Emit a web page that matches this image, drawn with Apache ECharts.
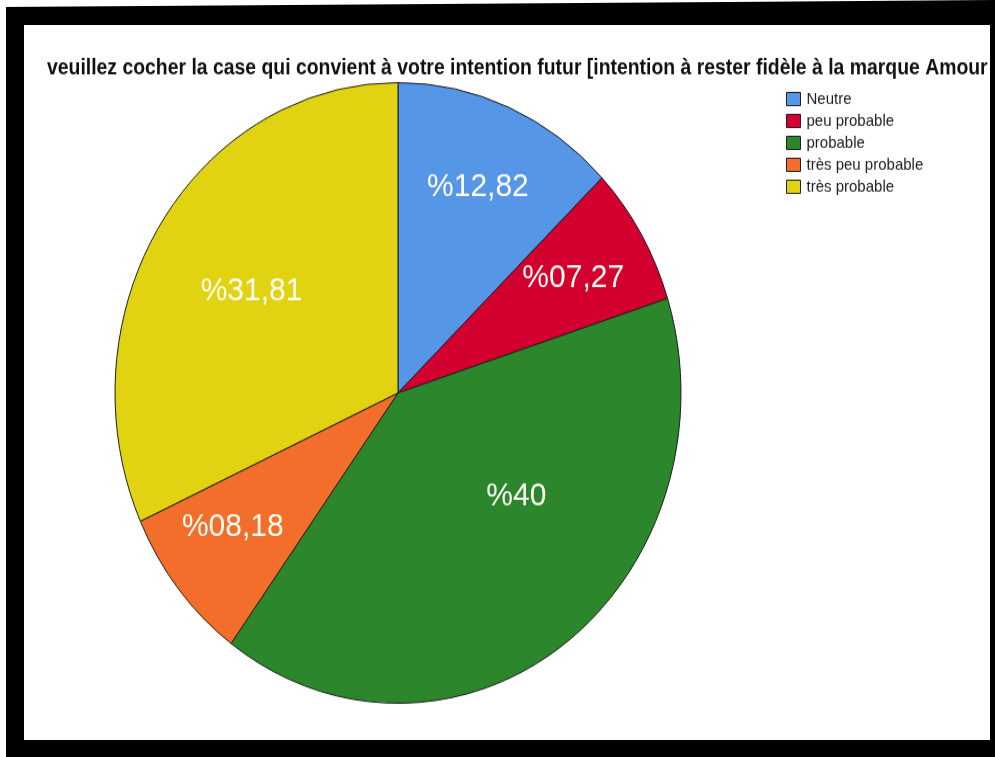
<!DOCTYPE html>
<html>
<head>
<meta charset="utf-8">
<script src="https://cdn.jsdelivr.net/npm/echarts@6/dist/echarts.min.js"></script>
<style>
  html, body { margin: 0; padding: 0; }
  body { width: 995px; height: 757px; background: #000; position: relative; overflow: hidden; }
  #edgeLeft { position: absolute; left: 0; top: 0; width: 6px; height: 757px; background: #fff; }
  #edgeTop { position: absolute; left: 0; top: 0; width: 995px; height: 7px; background: #fff;
             clip-path: polygon(0 0, 100% 0, 0 100%); }
  #panel { position: absolute; left: 24px; top: 25px; width: 966px; height: 715px; background: #fff;
           box-shadow: inset 0 0 0 1px #c8c8c8; overflow: hidden; }
  /* the chart is drawn in a 966x652 box and stretched vertically to fill the panel */
  #chart { position: absolute; left: 0; top: 0; width: 966px; height: 652px;
           transform: scale(1, 1.0966); transform-origin: 0 0; }
</style>
</head>
<body>
<div id="edgeLeft"></div>
<div id="edgeTop"></div>
<div id="panel"><div id="chart"></div></div>
<script>
// Answer categories and their shares (%)
const categories = ['Neutre', 'peu probable', 'probable', 'très peu probable', 'très probable'];
const shares = [12.82, 7.27, 40, 8.18, 31.81];
const sliceColors = ['#5596e6', '#d3002f', '#2c862b', '#f36d2b', '#e1d312'];
const titleText = 'veuillez cocher la case qui convient à votre intention futur [intention à rester fidèle à la marque Amour';

// Small nudges for labels that sit away from the label ring
const labelNudge = { 'probable': [-1, -71], 'très peu probable': [-7, -7], 'très probable': [25, 18] };

function pct(v) {
  const parts = String(v).split('.');
  return '%' + parts[0].padStart(2, '0') + (parts[1] ? ',' + parts[1] : '');
}

const FONT = '"Liberation Sans", Arial, sans-serif';
const CENTER = [374, 335.5];
const R = 283;

const sliceData = categories.map((name, i) => ({
  name, value: shares[i], itemStyle: { color: sliceColors[i] }
}));
const labelData = categories.map((name, i) => ({
  name, value: shares[i],
  label: labelNudge[name] ? { offset: labelNudge[name] } : {}
}));

const chart = echarts.init(document.getElementById('chart'), null, { renderer: 'canvas' });
chart.setOption({
  backgroundColor: '#fff',
  animation: false,
  title: {
    text: titleText,
    left: 18, top: 25,
    textStyle: { fontFamily: FONT, fontSize: 19.4, fontWeight: 'bold', color: '#111' }
  },
  legend: {
    orient: 'vertical',
    left: 757, top: 55,
    itemWidth: 14, itemHeight: 12, itemGap: 5,
    icon: 'rect',
    data: categories,
    itemStyle: { borderColor: '#222', borderWidth: 1 },
    textStyle: { fontFamily: FONT, fontSize: 15, color: '#222', padding: [0, 0, 0, 1] },
    selectedMode: false
  },
  series: [
    {
      type: 'pie',
      center: CENTER,
      radius: [0, R],
      startAngle: 90,
      clockwise: true,
      silent: true,
      data: sliceData,
      itemStyle: { borderColor: '#1e1e1e', borderWidth: 1 },
      label: { show: false },
      labelLine: { show: false }
    },
    {
      // transparent ring that only carries the percentage labels
      type: 'pie',
      center: CENTER,
      radius: [119, R],
      startAngle: 90,
      clockwise: true,
      silent: true,
      avoidLabelOverlap: false,
      data: labelData,
      itemStyle: { color: 'rgba(0,0,0,0)', borderWidth: 0 },
      label: {
        show: true,
        position: 'inside',
        formatter: p => pct(p.value),
        fontFamily: FONT,
        fontSize: 30,
        color: '#fffdf2'
      },
      labelLine: { show: false },
      emphasis: { disabled: true }
    }
  ]
});
</script>
</body>
</html>
